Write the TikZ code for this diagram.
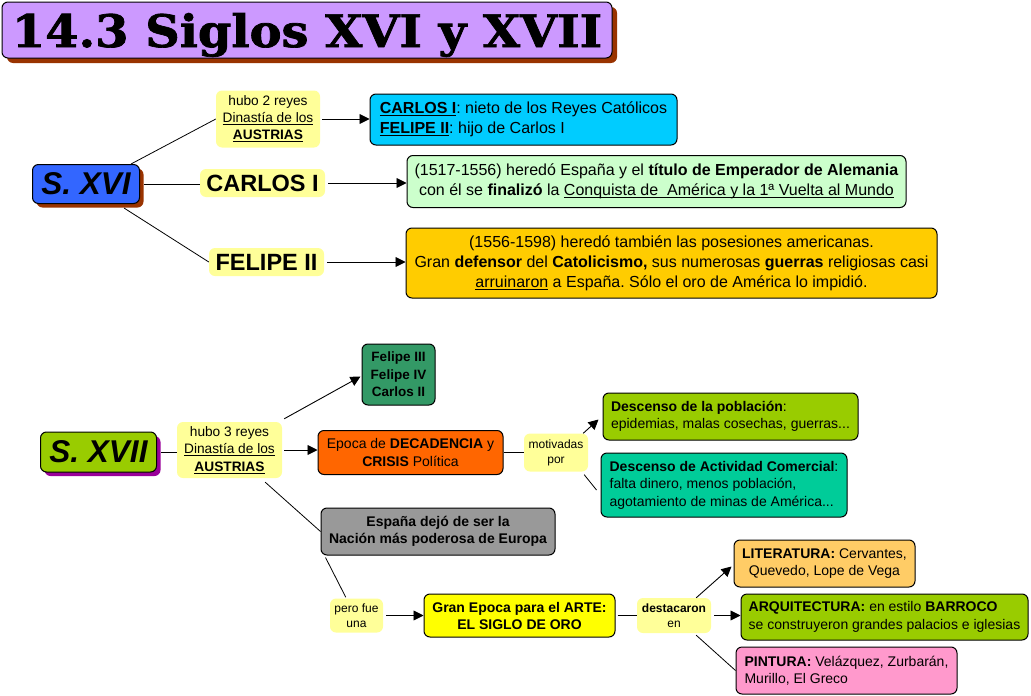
\documentclass[tikz,border=0pt]{standalone}
\usepackage{fontspec}
\setmainfont{Liberation Sans}
\newfontfamily\titlefont[BoldFeatures={FakeBold=1.6}]{DejaVu Serif}
\usetikzlibrary{arrows.meta,shadows}
\frenchspacing
\definecolor{lav}{HTML}{CC99FF}
\definecolor{sbrown}{HTML}{993300}
\definecolor{spurple}{HTML}{990099}
\definecolor{sblue}{HTML}{3366FF}
\definecolor{lyel}{HTML}{FFFF99}
\definecolor{cyanbox}{HTML}{00CCFF}
\definecolor{lgreen}{HTML}{CCFFCC}
\definecolor{gold}{HTML}{FFCC00}
\definecolor{lime}{HTML}{99CC00}
\definecolor{dgreen}{HTML}{339966}
\definecolor{orng}{HTML}{FF6600}
\definecolor{teal2}{HTML}{00CC99}
\definecolor{gry}{HTML}{999999}
\definecolor{yel}{HTML}{FFFF00}
\definecolor{peach}{HTML}{FFCC66}
\definecolor{pink}{HTML}{FF99CC}
\newcommand\fsz[2]{\fontsize{#1}{#2}\selectfont}
\newcommand\uln[1]{\leavevmode\setbox0\hbox{#1}\rlap{\rule[-2.2pt]{\wd0}{0.8pt}}\box0\relax}
\tikzset{
  bx/.style={draw=black, line width=1pt, rounded corners=6pt, inner sep=0pt, align=center},
  lb/.style={fill=lyel, rounded corners=6pt, inner sep=0pt, align=center},
  ar/.style={line width=0.9pt, -{Triangle[length=10pt,width=10pt]}},
  ln/.style={line width=0.8pt},
  shb/.style={drop shadow={shadow xshift=#1, shadow yshift=-#1, fill=sbrown, opacity=1}},
  shp/.style={drop shadow={shadow xshift=#1, shadow yshift=-#1, fill=spurple, opacity=1}},
}
\begin{document}
\begin{tikzpicture}[x=1pt,y=-1pt]
\useasboundingbox (0,0) rectangle (1031,696);
% title
\node[bx, fill=lav, minimum width=610pt, minimum height=56pt, shb=5pt] (title) at (307,30) {};
\node[anchor=base, inner sep=0pt] (titletext) at (307,47) {\titlefont\bfseries\resizebox{590pt}{34pt}{14.3 Siglos XVI y XVII}};
% S. XVI section
\node[bx, fill=sblue, minimum width=107pt, minimum height=39pt, shb=4pt, font=\fsz{31.5}{34}\bfseries\itshape] (sxvi) at (86,184) {S. XVI};
\node[lb, minimum width=104pt, minimum height=57pt, font=\fsz{13.7}{17}] (hubo2) at (268,119) {hubo 2 reyes\\\uln{Dinastía de los}\\\textbf{\uln{AUSTRIAS}}};
\node[lb, minimum width=125pt, minimum height=28pt, font=\fsz{23.5}{26}\bfseries] (carlos) at (262.5,183) {CARLOS I};
\node[lb, minimum width=115pt, minimum height=28pt, font=\fsz{23.5}{26}\bfseries] (felipe) at (266.5,262) {FELIPE II};
\node[bx, fill=cyanbox, minimum width=307pt, minimum height=51pt, align=left, font=\fsz{16}{20}] (cbox) at (523.5,119.5) {\textbf{\uln{CARLOS I}}: nieto de los Reyes Católicos\\\textbf{\uln{FELIPE II}}: hijo de Carlos I};
\node[bx, fill=lgreen, minimum width=499pt, minimum height=52pt, font=\fsz{16}{20}] (gbox) at (656.5,181.5) {(1517-1556) heredó España y el \textbf{título de Emperador de Alemania}\\con él se \textbf{finalizó} la \uln{Conquista de\ \ América y la 1ª Vuelta al Mundo}};
\node[bx, fill=gold, minimum width=531pt, minimum height=70pt, font=\fsz{16}{20}] (obox) at (671.5,263) {(1556-1598) heredó también las posesiones americanas.\\Gran \textbf{defensor} del \textbf{Catolicismo,} sus numerosas \textbf{guerras} religiosas casi\\\uln{arruinaron} a España. Sólo el oro de América lo impidió.};
\draw[ln] ([xshift=-9pt]sxvi.north east) -- (hubo2.west);
\draw[ln] ([xshift=4pt]sxvi.east) -- (sxvi.east -| carlos.west);
\draw[ln] ([xshift=-16pt,yshift=-4pt]sxvi.south east) -- (felipe.west);
\draw[ar] ([xshift=2pt]hubo2.east) -- (hubo2.east -| cbox.west);
\draw[ar] ([xshift=3pt]carlos.east) -- (carlos.east -| gbox.west);
\draw[ar] ([xshift=3pt]felipe.east) -- (felipe.east -| obox.west);
% S. XVII section
\node[bx, fill=lime, minimum width=116pt, minimum height=40pt, shp=4pt, font=\fsz{31.5}{34}\bfseries\itshape] (sxvii) at (98.5,452) {S. XVII};
\node[lb, minimum width=105pt, minimum height=56pt, font=\fsz{13.7}{17.5}] (hubo3) at (229.5,450) {hubo 3 reyes\\\uln{Dinastía de los}\\\textbf{\uln{AUSTRIAS}}};
\node[bx, fill=dgreen, minimum width=73pt, minimum height=61pt, font=\fsz{13.5}{17.5}\bfseries] (felipe3) at (398.5,374.5) {Felipe III\\Felipe IV\\Carlos II};
\node[bx, fill=orng, minimum width=185pt, minimum height=44pt, font=\fsz{14}{17.5}] (epoca) at (410.5,452.5) {Epoca de \textbf{DECADENCIA} y\\\textbf{CRISIS} Política};
\node[bx, fill=gry, minimum width=234pt, minimum height=47pt, font=\fsz{14}{17.5}\bfseries] (gray) at (438,531.5) {España dejó de ser la\\Nación más poderosa de Europa};
\node[lb, minimum width=64pt, minimum height=38pt, font=\fsz{12}{15}] (motiv) at (556,452.5) {motivadas\\por};
\node[bx, fill=lime, minimum width=255pt, minimum height=47pt, align=left, font=\fsz{14}{17.5}] (desc1) at (730.5,416.5) {\textbf{Descenso de la población}:\\epidemias, malas cosechas, guerras...};
\node[bx, fill=teal2, minimum width=246pt, minimum height=64pt, align=left, font=\fsz{14}{17.5}] (desc2) at (724,485) {\textbf{Descenso de Actividad Comercial}:\\falta dinero, menos población,\\agotamiento de minas de América...};
\node[lb, minimum width=53pt, minimum height=34pt, font=\fsz{12}{15}] (pero) at (356.5,615.5) {pero fue\\una};
\node[bx, fill=yel, minimum width=191pt, minimum height=43pt, font=\fsz{14}{17}\bfseries] (oro) at (519.5,615.5) {Gran Epoca para el ARTE:\\EL SIGLO DE ORO};
\node[lb, minimum width=74pt, minimum height=35pt, font=\fsz{12}{15}] (dest) at (674,615.5) {\textbf{destacaron}\\en};
\node[bx, fill=peach, minimum width=181pt, minimum height=47pt, font=\fsz{14}{17.5}] (lit) at (824.5,563.5) {\textbf{LITERATURA:} Cervantes,\\Quevedo, Lope de Vega};
\node[bx, fill=lime, minimum width=287pt, minimum height=46pt, align=left, font=\fsz{14}{17.5}] (arq) at (884.5,617) {\textbf{ARQUITECTURA:} en estilo \textbf{BARROCO}\\se construyeron grandes palacios e iglesias};
\node[bx, fill=pink, minimum width=221pt, minimum height=47pt, align=left, font=\fsz{14}{17.5}] (pin) at (846.5,670.5) {\textbf{PINTURA:} Velázquez, Zurbarán,\\Murillo, El Greco};
\draw[ln] ([xshift=4pt]sxvii.east) -- (sxvii.east -| hubo3.west);
\draw[ar] ([xshift=2pt]hubo3.east) -- (hubo3.east -| epoca.west);
\draw[ar] ([xshift=2pt,yshift=3pt]hubo3.north east) -- ([xshift=-1pt,yshift=-2pt]felipe3.west);
\draw[ln] ([xshift=-17pt,yshift=-4pt]hubo3.south east) -- (gray.west);
\draw[ln] (epoca.east) -- (epoca.east -| motiv.west);
\draw[ar] ([xshift=-5pt]motiv.north east) -- ([xshift=-4pt,yshift=-3pt]desc1.west);
\draw[ln] ([xshift=-4pt,yshift=-3pt]motiv.south east) -- ([xshift=-4pt,yshift=-5pt]desc2.west);
\draw[ln] ([xshift=5pt,yshift=-2pt]gray.south west) -- ([xshift=16pt,yshift=1pt]pero.north west);
\draw[ar] ([xshift=3pt]pero.east) -- (pero.east -| oro.west);
\draw[ln] ([xshift=2pt]oro.east) -- (oro.east -| dest.west);
\draw[ar] ([xshift=-15pt]dest.north east) -- ([xshift=-2pt,yshift=-3pt]lit.west);
\draw[ar] ([xshift=3pt]dest.east) -- (dest.east -| arq.west);
\draw[ln] ([xshift=-15pt,yshift=-2pt]dest.south east) -- (pin.west);
\end{tikzpicture}
\end{document}
